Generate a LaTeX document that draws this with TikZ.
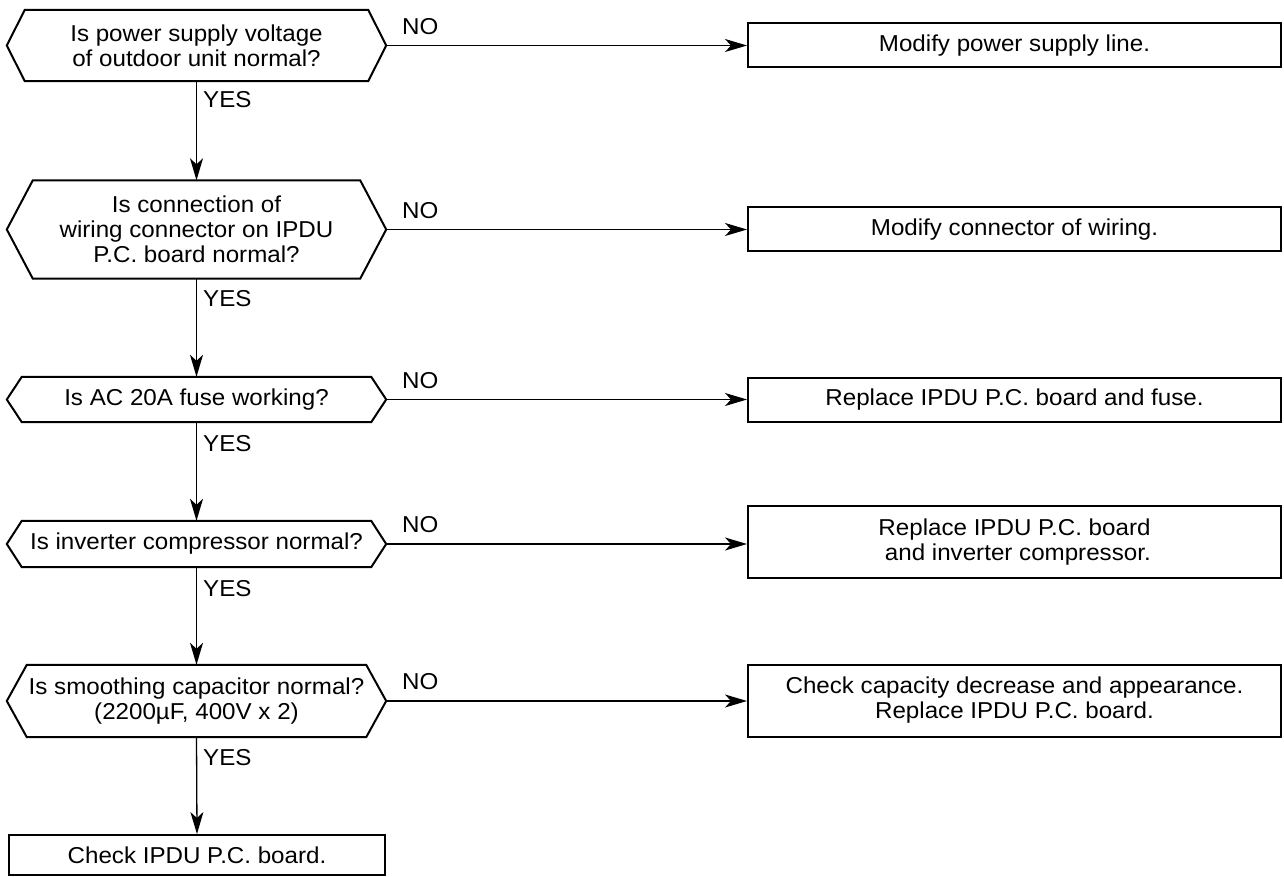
\documentclass[tikz,border=0pt]{standalone}
\usepackage{fontspec}
\setmainfont{Liberation Sans}[FakeStretch=1.05]
\usetikzlibrary{arrows.meta,calc}
\newcommand\hexoutline[2]{\draw[border] (#1.west) -- ([xshift=#2]#1.north west) -- ([xshift=-#2]#1.north east) -- (#1.east) -- ([xshift=-#2]#1.south east) -- ([xshift=#2]#1.south west) -- cycle;}
\begin{document}
\begin{tikzpicture}[x=1pt,y=-1pt,
  txt/.style={font=\fontsize{23}{25}\selectfont, align=center, inner sep=0pt},
  quest/.style={txt, minimum width=379pt},
  boxx/.style={txt, draw, line width=2pt, minimum width=533pt},
  border/.style={line width=2pt},
  conn/.style={line width=1.3pt, -{Stealth[length=22pt,width=13pt,inset=6pt]}},
  lbl/.style={font=\fontsize{23}{25}\selectfont, inner sep=0pt, anchor=west}]
\useasboundingbox (0,0) rectangle (1284,877);

% questions
\node[quest, minimum height=71pt] (q1) at (196.5,45.5) {Is power supply voltage\\of outdoor unit normal?};
\node[quest, minimum height=98pt] (q2) at (196.5,229.5) {Is connection of\\wiring connector on IPDU\\P.C. board normal?};
\node[quest, minimum height=45pt] (q3) at (196.5,399.5) {Is AC 20A fuse working?};
\node[quest, minimum height=46pt] (q4) at (196.5,544) {Is inverter compressor normal?};
\node[quest, minimum height=72pt] (q5) at (196.5,701) {Is smoothing capacitor normal?\\(2200µF, 400V x 2)};
\hexoutline{q1}{18pt}
\hexoutline{q2}{26pt}
\hexoutline{q3}{15pt}
\hexoutline{q4}{15pt}
\hexoutline{q5}{20pt}

% action boxes
\node[boxx, minimum height=44pt] (a1) at (1014.5,45.5) {Modify power supply line.};
\node[boxx, minimum height=44pt] (a2) at (1014.5,229.5) {Modify connector of wiring.};
\node[boxx, minimum height=44pt] (a3) at (1014.5,399.5) {Replace IPDU P.C. board and fuse.};
\node[boxx, minimum height=72pt] (a4) at (1014.5,542) {Replace IPDU P.C. board\\\ and inverter compressor.};
\node[boxx, minimum height=72pt] (a5) at (1014.5,700.5) {Check capacity decrease and appearance.\\Replace IPDU P.C. board.};

\node[txt, draw, line width=2pt, minimum width=376pt, minimum height=40pt] (e) at (197,855) {Check IPDU P.C. board.};

% connectors
\draw[conn] (q1.south) -- (q2.north);
\draw[conn] (q2.south) -- (q3.north);
\draw[conn] (q3.south) -- (q4.north);
\draw[conn] (q4.south) -- (q5.north);
\draw[conn] (q5.south) -- (e.north);
\draw[conn] (q1.east) -- (q1.east -| a1.west);
\draw[conn] (q2.east) -- (q2.east -| a2.west);
\draw[conn] (q3.east) -- (q3.east -| a3.west);
\draw[conn] (q4.east) -- (q4.east -| a4.west);
\draw[conn] (q5.east) -- (q5.east -| a5.west);

% labels
\node[lbl] (y1) at (203,100) {YES};
\node[lbl] (y2) at (203,299) {YES};
\node[lbl] (y3) at (203,444) {YES};
\node[lbl] (y4) at (203,589) {YES};
\node[lbl] (y5) at (203,758) {YES};
\node[lbl] (n1) at (402,26.5) {NO};
\node[lbl] (n2) at (402,211) {NO};
\node[lbl] (n3) at (402,380.5) {NO};
\node[lbl] (n4) at (402,525) {NO};
\node[lbl] (n5) at (402,682) {NO};
\end{tikzpicture}
\end{document}
